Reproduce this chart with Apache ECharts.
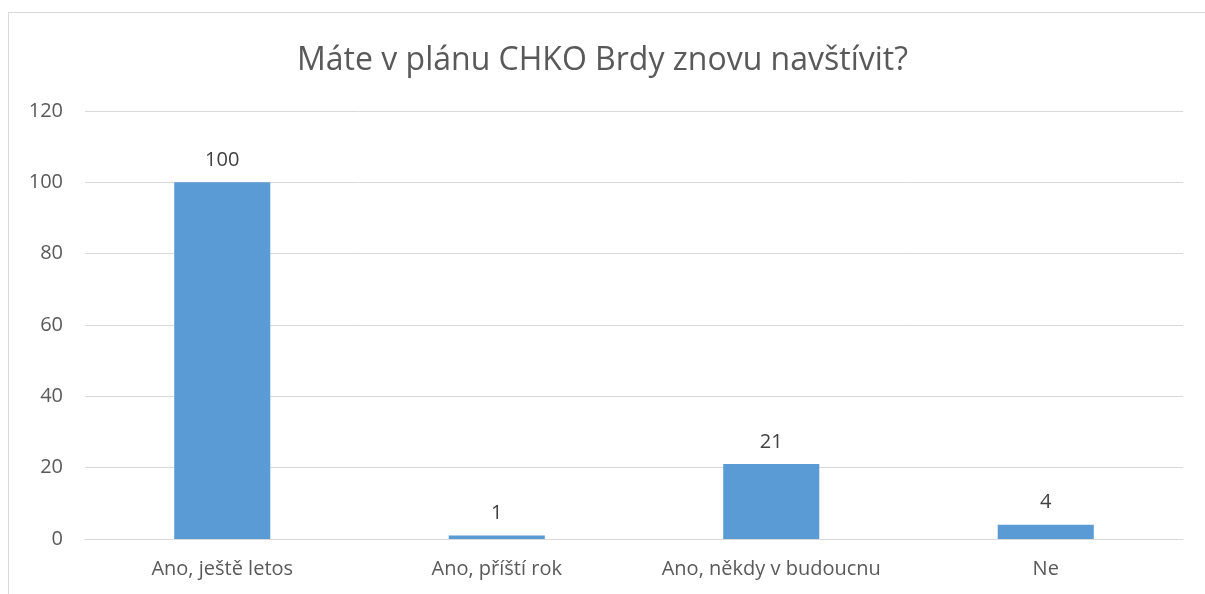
<!DOCTYPE html>
<html>
<head>
<meta charset="utf-8">
<script src="https://cdn.jsdelivr.net/npm/echarts@6/dist/echarts.min.js"></script>
<style>
  html, body { margin: 0; padding: 0; background: #fff; }
  #frame { position: absolute; left: 8px; top: 12px; width: 1300px; height: 700px; border: 1px solid #d9d9d9; box-sizing: border-box; }
  #chart { position: absolute; left: 0; top: 0; width: 1205px; height: 594px; }
</style>
</head>
<body>
<div id="frame"></div>
<div id="chart"></div>
<script>
var categories = ['Ano, ještě letos', 'Ano, příští rok', 'Ano, někdy v budoucnu', 'Ne'];
var values = [100, 1, 21, 4];

var chart = echarts.init(document.getElementById('chart'));

var option = {
  animation: false,
  title: {
    left: 'center',
    top: 40,
    text: 'Máte v plánu CHKO Brdy znovu navštívit?',
    textStyle: {
      fontFamily: 'Open Sans',
      fontSize: 32,
      fontWeight: 'normal',
      color: '#595959'
    }
  },
  grid: {
    left: 85,
    right: 22,
    top: 111,
    bottom: 55
  },
  xAxis: {
    type: 'category',
    data: categories,
    axisLine: { lineStyle: { color: '#d9d9d9', width: 1 } },
    axisTick: { show: false },
    axisLabel: {
      interval: 0,
      fontFamily: 'Open Sans',
      fontSize: 20,
      color: '#595959',
      margin: 20
    }
  },
  yAxis: {
    type: 'value',
    min: 0,
    max: 120,
    interval: 20,
    axisLine: { show: false },
    axisTick: { show: false },
    splitLine: { lineStyle: { color: '#d9d9d9', width: 1 } },
    axisLabel: {
      fontFamily: 'Open Sans',
      fontSize: 20,
      color: '#595959',
      margin: 22
    }
  },
  series: [{
    type: 'bar',
    data: values,
    barWidth: '35%',
    itemStyle: { color: '#5b9bd5' },
    label: {
      show: true,
      position: 'top',
      distance: 12,
      fontFamily: 'Open Sans',
      fontSize: 20,
      color: '#404040'
    }
  }]
};

chart.setOption(option);
</script>
</body>
</html>
